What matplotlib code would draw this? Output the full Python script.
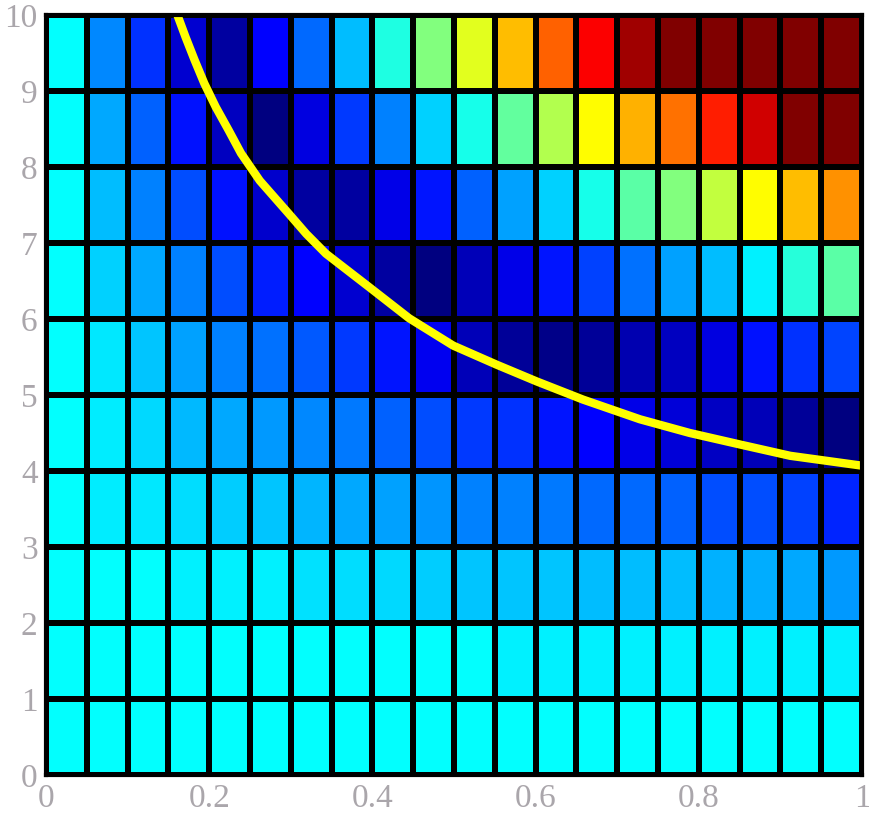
import numpy as np
import matplotlib
matplotlib.use("Agg")
import matplotlib.pyplot as plt
from matplotlib.colors import LinearSegmentedColormap

# cell values, one list per band of y (bottom band first), 20 cells across x
band_0 = [0.375] * 20
band_1 = [0.375] * 11 + [0.36] * 9
band_2 = [0.375, 0.375, 0.375, 0.36, 0.36, 0.36, 0.345, 0.34, 0.337, 0.325,
          0.32, 0.32, 0.318, 0.312, 0.312, 0.31, 0.297, 0.295, 0.29, 0.277]
band_3 = [0.375, 0.358, 0.352, 0.34, 0.325, 0.32, 0.301, 0.29, 0.282, 0.27,
          0.25, 0.25, 0.243, 0.227, 0.227, 0.219, 0.203, 0.203, 0.1875, 0.164]
band_4 = [0.375, 0.358, 0.337, 0.305, 0.29, 0.275, 0.258, 0.243, 0.219, 0.2,
          0.18, 0.172, 0.148, 0.125, 0.103, 0.0875, 0.07, 0.055, 0.025, 0.0]
band_5 = [0.375, 0.352, 0.32, 0.282, 0.25, 0.235, 0.211, 0.18, 0.148, 0.11,
          0.055, 0.025, 0.008, 0.025, 0.047, 0.0625, 0.095, 0.141, 0.172, 0.195]
band_6 = [0.375, 0.329, 0.29, 0.25, 0.203, 0.156, 0.125, 0.079, 0.0325, 0.0,
          0.055, 0.103, 0.148, 0.1875, 0.235, 0.282, 0.312, 0.36, 0.414, 0.461]
band_7 = [0.375, 0.312, 0.25, 0.203, 0.141, 0.075, 0.0325, 0.0325, 0.103, 0.148,
          0.219, 0.282, 0.329, 0.398, 0.461, 0.5, 0.5625, 0.625, 0.6875, 0.734]
band_8 = [0.375, 0.29, 0.219, 0.141, 0.0625, 0.0, 0.095, 0.18, 0.25, 0.329,
          0.398, 0.469, 0.547, 0.625, 0.703, 0.765, 0.844, 0.921, 1.0, 1.0]
band_9 = [0.375, 0.258, 0.172, 0.079, 0.0325, 0.125, 0.227, 0.312, 0.406, 0.5,
          0.595, 0.6875, 0.781, 0.875, 0.9675, 1.0, 1.0, 1.0, 1.0, 1.0]

# minimum curve
curve_x = [0.161, 0.171, 0.182, 0.194, 0.208, 0.224, 0.239, 0.262, 0.298,
           0.319, 0.343, 0.396, 0.445, 0.499, 0.552, 0.601, 0.658, 0.728,
           0.789, 0.85, 0.912, 1.0]
curve_y = [10.0, 9.71, 9.41, 9.1, 8.79, 8.48, 8.18, 7.82, 7.38,
           7.12, 6.86, 6.42, 6.01, 5.65, 5.4, 5.18, 4.94, 4.68,
           4.5, 4.35, 4.2, 4.07]

x_ticks = [0, 0.2, 0.4, 0.6, 0.8, 1]
x_ticklabels = ["0", "0.2", "0.4", "0.6", "0.8", "1"]
y_ticks = list(range(11))

vals = np.array([band_0, band_1, band_2, band_3, band_4,
                 band_5, band_6, band_7, band_8, band_9])
xe = np.linspace(0, 1, vals.shape[1] + 1)
ye = np.linspace(0, 10, vals.shape[0] + 1)

# matlab style jet
jet = LinearSegmentedColormap.from_list("mjet", [
    (0.0, (0, 0, 0.5)), (0.125, (0, 0, 1)), (0.375, (0, 1, 1)),
    (0.625, (1, 1, 0)), (0.875, (1, 0, 0)), (1.0, (0.5, 0, 0))])

fig = plt.figure(figsize=(8.7, 8.15), dpi=100)
ax = fig.add_axes([46 / 870, 40 / 815, 816 / 870, 760 / 815])

ax.pcolormesh(xe, ye, vals, cmap=jet, vmin=0, vmax=1,
              edgecolors="black", linewidth=3)
ax.plot(curve_x, curve_y, color="#ffff00", lw=6, solid_capstyle="butt",
        solid_joinstyle="round")

ax.set_xlim(0, 1)
ax.set_ylim(0, 10)
ax.set_xticks(x_ticks)
ax.set_xticklabels(x_ticklabels)
ax.set_yticks(y_ticks)
for s in ax.spines.values():
    s.set_linewidth(3)
ax.tick_params(length=0, labelsize=24, labelcolor="#aaa6ab", pad=6)
for t in ax.get_xticklabels() + ax.get_yticklabels():
    t.set_family("Liberation Serif")

fig.savefig("out.png", dpi=100)
